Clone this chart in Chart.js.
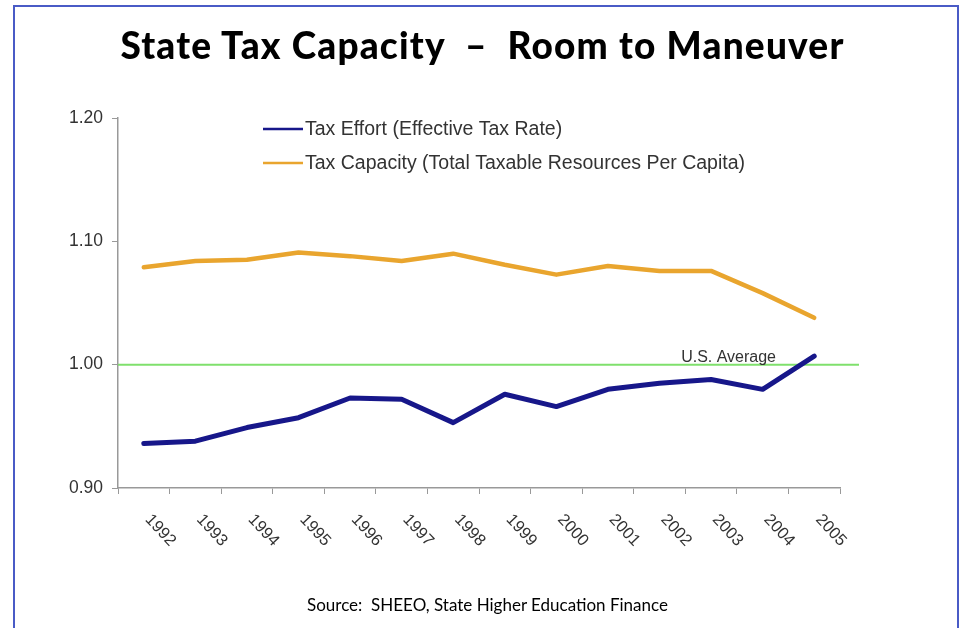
<!DOCTYPE html>
<html>
<head>
<meta charset="utf-8">
<script src="https://cdn.jsdelivr.net/npm/chart.js@4"></script>
<style>
  html, body { margin: 0; padding: 0; background: #fff; }
  #page { position: relative; width: 965px; height: 628px; overflow: hidden; }
  #frame {
    position: absolute; left: 13px; top: 5px; width: 942px; height: 640px;
    border-left: 2px solid #4a5bc6; border-top: 2px solid #4a5bc6; border-right: 2px solid #4a5bc6;
  }
  #title {
    position: absolute; left: 0; top: 22px; width: 965px; text-align: center;
    font-family: Lato, "Open Sans", sans-serif; font-weight: 900; font-size: 37px;
    letter-spacing: 1.2px; color: #000;
  }
  #source {
    position: absolute; left: 0; top: 594px; width: 975px; text-align: center;
    font-family: Lato, "Open Sans", sans-serif; font-size: 17px; color: #000;
  }
  #wrap { position: absolute; left: 0; top: 0; width: 965px; height: 628px; }
</style>
</head>
<body>
<div id="page">
  <div id="frame"></div>
  <div id="wrap"><canvas id="chart"></canvas></div>
  <div id="title">State Tax Capacity &nbsp;&ndash;&nbsp; Room to Maneuver</div>
  <div id="source">Source:&nbsp; SHEEO, State Higher Education Finance</div>
</div>
<script>
const years = ["1992", "1993", "1994", "1995", "1996", "1997", "1998",
               "1999", "2000", "2001", "2002", "2003", "2004", "2005"];
const taxEffort = [0.936, 0.938, 0.949, 0.957, 0.973, 0.972, 0.953,
                   0.976, 0.966, 0.980, 0.985, 0.988, 0.980, 1.007];
const taxCapacity = [1.079, 1.084, 1.085, 1.091, 1.088, 1.084, 1.090,
                     1.081, 1.073, 1.080, 1.076, 1.076, 1.058, 1.038];
const yTicks = [0.90, 1.00, 1.10, 1.20];
const usAverage = 1.00;
const usAverageLabel = "U.S. Average";

const labelFont = "Liberation Sans, Arial, sans-serif";

// green reference line + its label, under the data lines
const averageLine = {
  id: "averageLine",
  beforeDatasetsDraw(chart) {
    const { ctx, chartArea, scales } = chart;
    const y = scales.y.getPixelForValue(usAverage);
    ctx.save();
    ctx.strokeStyle = "#7fe06c";
    ctx.lineWidth = 2;
    ctx.beginPath();
    ctx.moveTo(chartArea.left, y);
    ctx.lineTo(chartArea.right + 19, y);
    ctx.stroke();
    ctx.fillStyle = "#333";
    ctx.font = "16px " + labelFont;
    ctx.textAlign = "right";
    ctx.textBaseline = "alphabetic";
    ctx.fillText(usAverageLabel, chartArea.right - 64, y - 3);
    ctx.restore();
  }
};

// legend drawn inside the plot, top left
const innerLegend = {
  id: "innerLegend",
  afterDraw(chart) {
    const { ctx, chartArea } = chart;
    const x0 = chartArea.left + 145;
    ctx.save();
    ctx.font = "19.5px " + labelFont;
    ctx.textBaseline = "middle";
    chart.data.datasets.forEach((ds, i) => {
      const y = chartArea.top + 11 + i * 34;
      ctx.strokeStyle = ds.borderColor;
      ctx.lineWidth = 2.5;
      ctx.beginPath();
      ctx.moveTo(x0, y);
      ctx.lineTo(x0 + 40, y);
      ctx.stroke();
      ctx.fillStyle = "#333";
      ctx.fillText(ds.label, x0 + 42, y + 1);
    });
    ctx.restore();
  }
};

// slanted year labels going down to the right
const slantLabels = {
  id: "slantLabels",
  afterDraw(chart) {
    const { ctx, chartArea, scales } = chart;
    ctx.save();
    ctx.font = "16.5px " + labelFont;
    ctx.fillStyle = "#333";
    ctx.textAlign = "left";
    ctx.textBaseline = "middle";
    chart.data.labels.forEach((lab, i) => {
      const x = scales.x.getPixelForValue(i) + 4;
      const y = chartArea.bottom + 29;
      ctx.save();
      ctx.translate(x, y);
      ctx.rotate(47 * Math.PI / 180);
      ctx.fillText(lab, 0, 0);
      ctx.restore();
    });
    ctx.restore();
  }
};

new Chart(document.getElementById("chart"), {
  type: "line",
  data: {
    labels: years,
    datasets: [
      {
        label: "Tax Effort (Effective Tax Rate)",
        data: taxEffort,
        borderColor: "#17178a",
        borderWidth: 5,
        pointRadius: 0,
        tension: 0,
        borderCapStyle: "round",
        borderJoinStyle: "round"
      },
      {
        label: "Tax Capacity (Total Taxable Resources Per Capita)",
        data: taxCapacity,
        borderColor: "#e9a52e",
        borderWidth: 4.5,
        pointRadius: 0,
        tension: 0,
        borderCapStyle: "round",
        borderJoinStyle: "round"
      }
    ]
  },
  options: {
    responsive: true,
    maintainAspectRatio: false,
    animation: false,
    layout: { padding: { left: 0, right: 125, top: 118, bottom: 0 } },
    plugins: {
      legend: { display: false },
      tooltip: { enabled: false }
    },
    scales: {
      x: {
        type: "category",
        offset: true,
        grid: { display: true, drawOnChartArea: false, offset: true, tickLength: 6, color: "#999" },
        border: { color: "#999", width: 1.5 },
        ticks: { display: false },
        afterFit: (s) => { s.height = 140; }
      },
      y: {
        min: yTicks[0],
        max: yTicks[yTicks.length - 1],
        afterBuildTicks: (s) => { s.ticks = yTicks.map(v => ({ value: v })); },
        grid: { display: true, drawOnChartArea: false, tickLength: 6, color: "#999" },
        border: { color: "#999", width: 1.5 },
        ticks: {
          padding: 9,
          color: "#333",
          font: { family: labelFont, size: 17.5 },
          callback: (v) => Number(v).toFixed(2)
        },
        afterFit: (s) => { s.width = 118; }
      }
    }
  },
  plugins: [averageLine, innerLegend, slantLabels]
});
</script>
</body>
</html>
